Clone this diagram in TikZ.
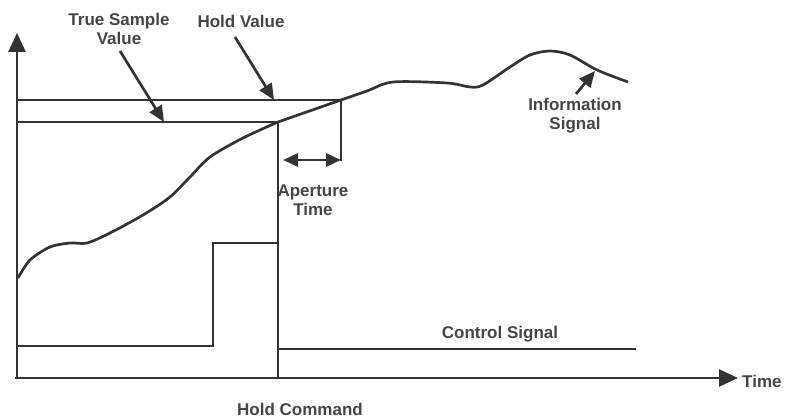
\documentclass[tikz,border=0pt]{standalone}
\usepackage{fontspec}
\setmainfont{Liberation Sans}
\usetikzlibrary{arrows.meta}
\definecolor{ink}{HTML}{333333}
\definecolor{txt}{HTML}{454545}
\begin{document}
\begin{tikzpicture}[x=1pt,y=-1pt,
  line/.style={draw=ink,line width=2.7pt,line join=miter},
  bigarrow/.style={line,-{Triangle[length=19pt,width=17pt]}},
  ptr/.style={line,-{Triangle[length=16pt,width=14pt]}},
  lbl/.style={text=txt,font=\bfseries\fontsize{17}{19}\selectfont,align=center,inner sep=0pt}]
\useasboundingbox (0,0) rectangle (788,419);
% axes
\coordinate (O) at (17,379);
\coordinate (ytip) at (17,33);
\coordinate (xtip) at (738,378);
\draw[bigarrow] (O) -- (ytip);
\draw[bigarrow] (15,378) -- (xtip);
\node[lbl,anchor=west] (time) at (742,381) {Time};
% hold value and true sample lines
\coordinate (hv0) at (17,100);
\coordinate (hv1) at (341,100);
\coordinate (ap1) at (341,161);
\coordinate (ts0) at (17,122);
\coordinate (ts1) at (278,122);
\coordinate (hc) at (278,378);
\draw[line] (hv0) -- (hv1) -- (ap1);
\draw[line] (ts0) -- (ts1) -- (hc);
% aperture arrow
\coordinate (apL) at (283,160);
\coordinate (apR) at (341,160);
\draw[line,{Triangle[length=15pt,width=13pt]}-{Triangle[length=15pt,width=13pt]}] (apL) -- (apR);
\node[lbl] (aper) at (313,200) {Aperture\\Time};
% information signal
\draw[line,line join=round] plot[smooth,tension=0.5] coordinates {
 (18,278) (30,260) (50,247) (70,243) (87,243) (110,233) (143,215) (170,197) (190,177) (210,157) (243,138) (278,122)};
\draw[line,line join=round] (ts1) -- (hv1);
\draw[line,line join=round] plot[smooth,tension=0.5] coordinates {
 (341,100) (367,91) (393,82) (447,83) (470,87) (483,85) (510,67) (530,55) (550,51) (570,55) (597,70) (628,82)};
% control signal
\coordinate (c0) at (17,346);
\coordinate (c1) at (213,346);
\coordinate (c2) at (213,243);
\coordinate (c3) at (278,243);
\coordinate (c4) at (278,349);
\coordinate (c5) at (636,349);
\draw[line] (c0) -- (c1) -- (c2) -- (c3);
\draw[line] (c4) -- (c5);
\node[lbl] (ctrl) at (500,334) {Control Signal};
\node[lbl] (hold) at (300,409) {Hold Command};
% labels with pointers
\node[lbl] (tsv) at (119,29) {True Sample\\Value};
\node[lbl] (hvl) at (241,21) {Hold Value};
\coordinate (tsa) at (164,122);
\coordinate (hva) at (274,100);
\draw[ptr] (120,51) -- (tsa);
\draw[ptr] (235,37) -- (hva);
\node[lbl] (info) at (575,116) {Information\\Signal};
\coordinate (infa) at (595,71);
\draw[ptr] (576,94) -- (infa);
\end{tikzpicture}
\end{document}
